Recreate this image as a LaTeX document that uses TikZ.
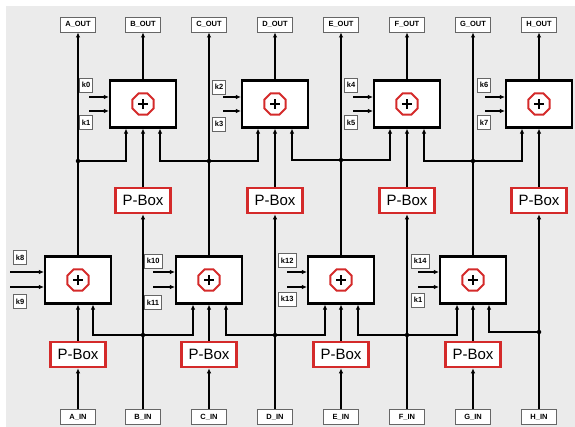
\documentclass[tikz,border=0pt]{standalone}
\usepackage{fontspec}
\setmainfont{Liberation Sans}
\usetikzlibrary{arrows.meta,shapes.geometric}
\definecolor{bg}{HTML}{EBEBEB}
\definecolor{pred}{HTML}{D42A2A}
\tikzset{
 lab/.style={draw=black!60, fill=white, line width=0.9pt, minimum width=35pt, minimum height=15pt, inner sep=0pt, font=\fontsize{7.5}{8}\selectfont\bfseries},
 key/.style={draw=black!60, fill=white, line width=0.9pt, minimum height=14pt, inner xsep=2.5pt, inner ysep=0pt, anchor=west, font=\fontsize{7.5}{8}\selectfont\bfseries},
 xorbox/.style={draw=black, fill=white, line width=2.2pt, minimum width=66pt, minimum height=47pt, inner sep=0pt},
 pbox/.style={draw=pred, fill=white, line width=2.6pt, minimum width=55pt, minimum height=25pt, inner sep=0pt, font=\fontsize{15}{16}\selectfont},
 octo/.style={regular polygon, regular polygon sides=8, draw=pred, line width=2pt, minimum size=23pt, inner sep=0pt},
 plusline/.style={line width=1.6pt},
 wire/.style={line width=1.5pt},
 thick wire/.style={line width=2.3pt},
 arr/.style={-{Latex[length=5pt,width=4.5pt]}},
 dot/.style={circle, fill=black, inner sep=0pt, minimum size=4.5pt},
}
\newcommand{\xorsym}[2]{%
  \node[octo] (#2) at (#1.center) {};
  \draw[plusline] ([xshift=-5pt]#1.center) -- ([xshift=5pt]#1.center);
  \draw[plusline] ([yshift=-5pt]#1.center) -- ([yshift=5pt]#1.center);
}
\begin{document}
\begin{tikzpicture}[x=1pt,y=-1pt]
\useasboundingbox (0,0) rectangle (575,427);
\fill[bg] (6,6) rectangle (575,427);

% output labels
\node[lab] (oA) at (78,24.5) {A\_OUT};
\node[lab] (oB) at (143,24.5) {B\_OUT};
\node[lab] (oC) at (209,24.5) {C\_OUT};
\node[lab] (oD) at (275,24.5) {D\_OUT};
\node[lab] (oE) at (341,24.5) {E\_OUT};
\node[lab] (oF) at (407,24.5) {F\_OUT};
\node[lab] (oG) at (473,24.5) {G\_OUT};
\node[lab] (oH) at (539,24.5) {H\_OUT};

% input labels
\node[lab] (iA) at (78,417) {A\_IN};
\node[lab] (iB) at (143,417) {B\_IN};
\node[lab] (iC) at (209,417) {C\_IN};
\node[lab] (iD) at (275,417) {D\_IN};
\node[lab] (iE) at (341,417) {E\_IN};
\node[lab] (iF) at (407,417) {F\_IN};
\node[lab] (iG) at (473,417) {G\_IN};
\node[lab] (iH) at (539,417) {H\_IN};

% top XOR boxes
\node[xorbox] (xB) at (143,104) {};
\node[xorbox] (xD) at (275,104) {};
\node[xorbox] (xF) at (407,104) {};
\node[xorbox] (xH) at (539,104) {};
% bottom XOR boxes
\node[xorbox] (xA) at (78,280) {};
\node[xorbox] (xC) at (209,280) {};
\node[xorbox] (xE) at (341,280) {};
\node[xorbox] (xG) at (473,280) {};

\xorsym{xB}{sB}\xorsym{xD}{sD}\xorsym{xF}{sF}\xorsym{xH}{sH}
\xorsym{xA}{sA}\xorsym{xC}{sC}\xorsym{xE}{sE}\xorsym{xG}{sG}

% P-boxes
\node[pbox] (pB) at (143,200.5) {P-Box};
\node[pbox] (pD) at (275,200.5) {P-Box};
\node[pbox] (pF) at (407,200.5) {P-Box};
\node[pbox] (pH) at (539,200.5) {P-Box};
\node[pbox] (pA) at (78,354.5) {P-Box};
\node[pbox] (pC) at (209,354.5) {P-Box};
\node[pbox] (pE) at (341,354.5) {P-Box};
\node[pbox] (pG) at (473,354.5) {P-Box};

% junction dots
\node[dot] (jA) at (78,161) {};
\node[dot] (jC) at (209,161) {};
\node[dot] (jE) at (341,160) {};
\node[dot] (jG) at (473,161) {};
\node[dot] (jB) at (143,335) {};
\node[dot] (jD) at (275,335) {};
\node[dot] (jF) at (407,335) {};
\node[dot] (jH) at (539,332) {};

% vertical wires, columns A C E G
\foreach \c in {A,C,E,G}{
  \draw[wire,arr] (i\c.north) -- (p\c.south);
  \draw[wire,arr] (p\c.north) -- (x\c.south);
  \draw[wire,arr] (x\c.north) -- (o\c.south);
}
% columns B D F H
\foreach \c/\w in {B/thick wire,D/wire,F/wire,H/thick wire}{
  \draw[\w,arr] (i\c.north) -- (p\c.south);
  \draw[\w,arr] (p\c.north) -- (x\c.south);
  \draw[\w,arr] (x\c.north) -- (o\c.south);
}

% top buses
\draw[wire,arr] (jA.center) -| ([xshift=-17pt]xB.south);
\draw[wire,arr] (jC.center) -| ([xshift=17pt]xB.south);
\draw[wire,arr] (jC.center) -| ([xshift=-17pt]xD.south);
\draw[wire,arr] (jE.center) -| ([xshift=17pt]xD.south);
\draw[wire,arr] (jE.center) -| ([xshift=-17pt]xF.south);
\draw[wire,arr] (jG.center) -| ([xshift=17pt]xF.south);
\draw[wire,arr] (jG.center) -| ([xshift=-17pt]xH.south);
% bottom buses
\draw[wire,arr] (jB.center) -| ([xshift=15pt]xA.south);
\draw[wire,arr] (jB.center) -| ([xshift=-16pt]xC.south);
\draw[wire,arr] (jD.center) -| ([xshift=17pt]xC.south);
\draw[wire,arr] (jD.center) -| ([xshift=-16pt]xE.south);
\draw[wire,arr] (jF.center) -| ([xshift=17pt]xE.south);
\draw[wire,arr] (jF.center) -| ([xshift=-16pt]xG.south);
\draw[wire,arr] (jH.center) -| ([xshift=16pt]xG.south);

% keys, top row
\node[key] (k0) at (79,85) {k0};
\node[key] (k1) at (79,122.5) {k1};
\node[key] (k2) at (212,87) {k2};
\node[key] (k3) at (212,124) {k3};
\node[key] (k4) at (344,85) {k4};
\node[key] (k5) at (344,122.5) {k5};
\node[key] (k6) at (477,85) {k6};
\node[key] (k7) at (477,122.5) {k7};
% keys, bottom row
\node[key] (k8) at (13,257.5) {k8};
\node[key] (k9) at (13,301.5) {k9};
\node[key] (k10) at (144,261) {k10};
\node[key] (k11) at (144,302.5) {k11};
\node[key] (k12) at (278,260.5) {k12};
\node[key] (k13) at (278,299) {k13};
\node[key] (k14) at (411,261) {k14};
\node[key] (k15) at (411,300) {k1};

% key arrows
\foreach \b/\s in {xB/89,xD/223,xF/353,xH/485}{
  \coordinate (ka) at (\s,97);
  \coordinate (kb) at (\s,111);
  \draw[wire,arr] (ka) -- (ka -| \b.west);
  \draw[wire,arr] (kb) -- (kb -| \b.west);
}
\foreach \b/\s in {xA/10,xC/153,xE/287,xG/418}{
  \coordinate (ka) at (\s,272);
  \coordinate (kb) at (\s,287);
  \draw[wire,arr] (ka) -- (ka -| \b.west);
  \draw[wire,arr] (kb) -- (kb -| \b.west);
}
\end{tikzpicture}
\end{document}
